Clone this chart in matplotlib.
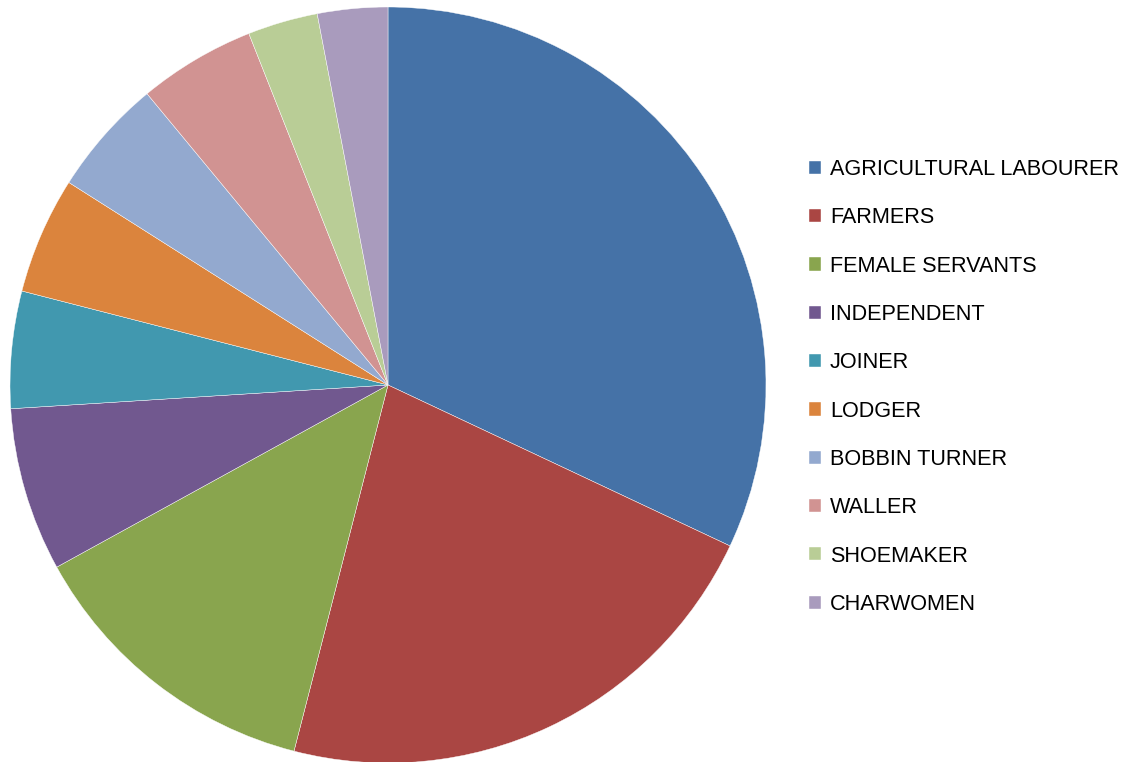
import matplotlib.pyplot as plt

labels = ['AGRICULTURAL LABOURER', 'FARMERS', 'FEMALE SERVANTS', 'INDEPENDENT',
          'JOINER', 'LODGER', 'BOBBIN TURNER', 'WALLER', 'SHOEMAKER', 'CHARWOMEN']
shares = [32, 22, 13, 7, 5, 5, 5, 5, 3, 3]
colors = ['#4572A7', '#AA4643', '#89A54E', '#71588F', '#4198AF',
          '#DB843D', '#93A9CF', '#D19392', '#B9CD96', '#A99BBD']

plt.rcParams['font.family'] = ['Liberation Sans', 'DejaVu Sans']

W, H = 1127, 762
fig = plt.figure(figsize=(W / 100, H / 100), dpi=100)
cx, cy, r = 388, 385, 378
ax = fig.add_axes([(cx - r) / W, (H - cy - r) / H, 2 * r / W, 2 * r / H])

wedges, _ = ax.pie(shares, colors=colors, startangle=90, counterclock=False,
                   radius=1, wedgeprops=dict(edgecolor='white', linewidth=0.3))
ax.set_xlim(-1, 1)
ax.set_ylim(-1, 1)
ax.set_aspect('equal')
ax.axis('off')

fig.legend(wedges, labels, loc='center left',
           bbox_to_anchor=(809 / W, 1 - 387 / H),
           frameon=False, fontsize=15.6, borderpad=0, borderaxespad=0,
           handlelength=0.56, handleheight=0.56, handletextpad=0.4,
           labelspacing=1.26)

fig.savefig('out.png', dpi=100)
